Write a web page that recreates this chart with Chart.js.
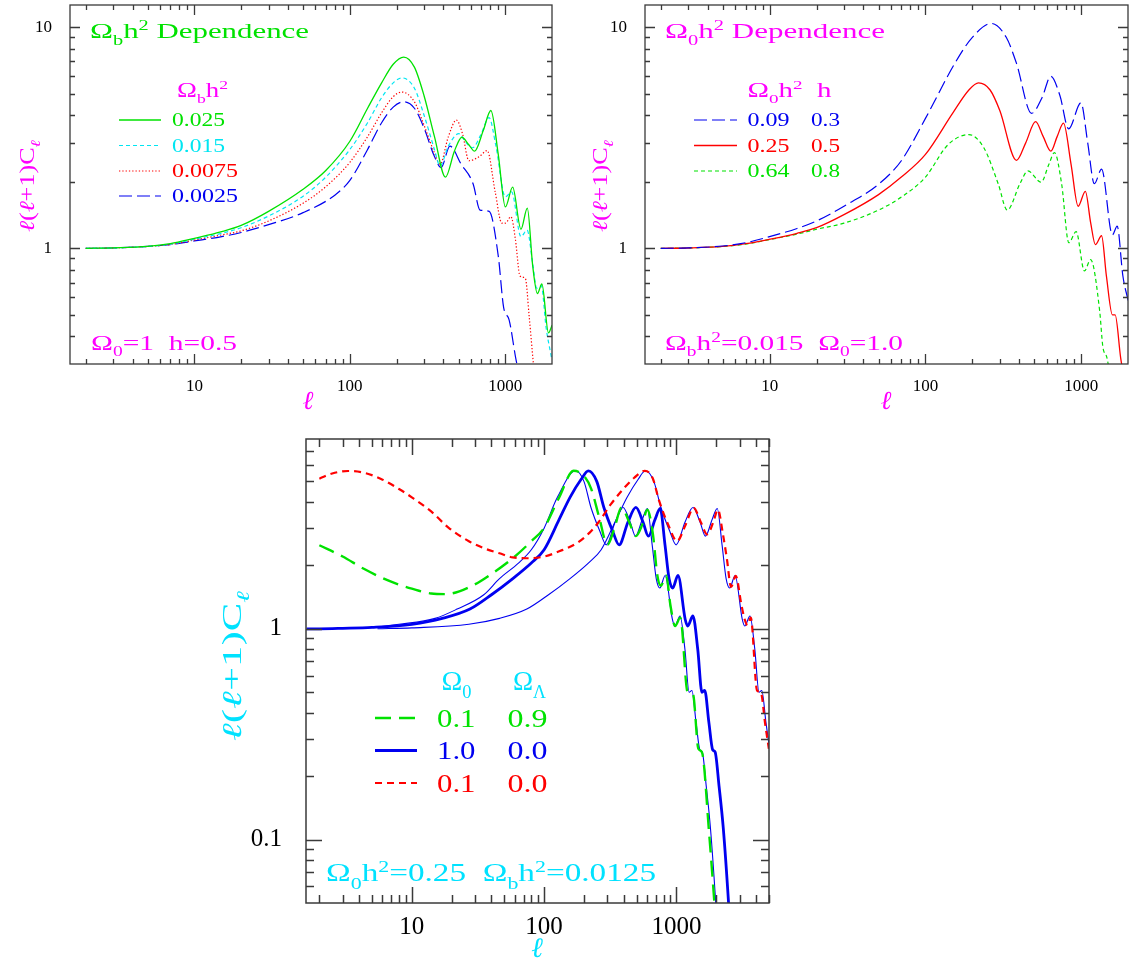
<!DOCTYPE html>
<html><head><meta charset="utf-8">
<script src="https://cdn.jsdelivr.net/npm/chart.js@4.4.1/dist/chart.umd.min.js"></script>
<style>
html,body{margin:0;padding:0;background:#fff;width:1136px;height:962px;overflow:hidden;}
canvas{position:absolute;display:block;}
</style></head><body>
<canvas id="c1" width="570" height="420" style="left:0px;top:0px"></canvas>
<canvas id="c2" width="561" height="420" style="left:575px;top:0px"></canvas>
<canvas id="c3" width="580" height="532" style="left:210px;top:430px"></canvas>
<script>
// ================= DATA =================
// Panel 1: Omega_b h^2 dependence
const p1_ell_025 = [2,3,5,7,10,15,20,30,50,70,100,130,160,190,222,260,300,350,412,470,525,580,634,720,807,900,1000,1114,1260,1384,1500,1607,1718,1893,2000];
const p1_val_025 = [1.0,1.005,1.02,1.05,1.11,1.19,1.27,1.47,1.85,2.25,3.05,4.3,5.6,6.8,7.33,6.6,4.9,3.2,2.1,2.75,3.18,2.95,2.75,3.4,4.2,2.66,1.54,1.89,1.22,1.52,0.83,0.625,0.69,0.415,0.45];
const p1_ell_015 = [2,3,5,7,10,15,20,30,50,70,100,130,160,190,216,260,300,350,380,430,502,560,616,700,785,870,1000,1097,1260,1380,1500,1590,1700,1830,1980];
const p1_val_015 = [1.0,1.004,1.02,1.045,1.10,1.17,1.24,1.40,1.72,2.1,2.8,3.7,4.8,5.6,5.9,5.3,4.0,2.8,2.36,2.9,3.3,3.0,2.85,3.3,3.9,2.9,1.71,1.8,1.13,1.21,0.85,0.66,0.68,0.436,0.32];
const p1_ell_0075 = [2,3,5,7,10,15,20,30,50,70,100,130,160,190,216,260,300,350,380,430,484,530,583,680,764,860,949,1000,1086,1160,1242,1346,1420,1515,1600];
const p1_val_0075 = [1.0,1.004,1.02,1.04,1.09,1.15,1.2,1.33,1.6,1.9,2.45,3.2,4.1,4.85,5.09,4.6,3.6,2.7,2.4,3.2,3.8,3.3,2.49,2.6,2.77,1.8,1.3,1.3,1.39,1.1,0.75,0.73,0.5,0.3,0.2];
const p1_ell_0025 = [2,3,5,7,10,15,20,30,50,80,100,130,160,190,222,260,300,350,386,440,520,620,687,787,900,975,1057,1165,1250];
const p1_val_0025 = [1.0,1.004,1.02,1.04,1.08,1.13,1.18,1.28,1.45,1.74,2.03,2.8,3.7,4.35,4.6,4.3,3.5,2.6,2.32,2.9,2.4,1.96,1.49,1.47,0.925,0.54,0.475,0.32,0.25];

// Panel 2: Omega_0 h^2 dependence
const p2_ell_009 = [2,3,5,7,10,15,20,30,50,70,100,155,200,265,330,383,480,560,638,730,830,995,1100,1213,1350,1585,1700,1850,2000];
const p2_val_009 = [1.0,1.005,1.025,1.06,1.13,1.23,1.33,1.55,1.95,2.49,3.87,6.9,9.0,10.4,9.0,6.9,4.08,4.8,6.0,4.9,3.47,4.55,3.0,1.96,2.28,1.15,1.26,0.75,0.58];
const p2_ell_025 = [2,3,5,7,10,15,20,30,50,70,100,150,190,219,260,300,384,440,509,570,638,700,769,860,955,1062,1150,1232,1350,1450,1585,1650,1790,1900];
const p2_val_025 = [1.0,1.004,1.02,1.05,1.10,1.17,1.24,1.42,1.75,2.1,2.66,4.1,5.2,5.6,5.2,4.2,2.5,3.0,3.74,3.2,2.75,3.2,3.68,2.4,1.55,1.81,1.3,1.04,1.14,0.75,0.5,0.5,0.32,0.25];
const p2_ell_064 = [2,3,5,7,10,15,20,30,50,73,100,140,190,237,293,335,404,455,552,620,673,748,832,927,1048,1148,1313,1375,1462,1550];
const p2_val_064 = [1.0,1.004,1.02,1.045,1.096,1.16,1.22,1.3,1.49,1.74,2.1,2.95,3.27,2.85,1.96,1.49,1.96,2.24,1.99,2.4,2.71,1.96,1.06,1.19,0.79,0.89,0.52,0.36,0.32,0.25];

// Panel 3: Omega_0 / Omega_Lambda
const p3_ell_lam = [2,3,4.3,6,8,10,14,18,27.5,40,58,80,100,130,167,200,227,260,301,340,385,440,494,550,603,665,718,764,837,900,978,1070,1216,1334,1466,1560,1766,1938,2050];
const p3_val_lam = [2.49,2.2,1.93,1.74,1.62,1.55,1.47,1.46,1.58,1.82,2.16,2.6,3.01,4.2,5.61,5.3,4.61,3.4,2.5,3.0,3.76,3.2,2.75,3.1,3.67,2.8,1.79,1.6,1.79,1.3,1.03,1.13,0.5,0.49,0.27,0.26,0.108,0.05,0.03];
const p3_ell_flat = [1.6,2,3,5,10,17,27.5,40,58,80,100,130,157,190,216,250,283,330,369,430,494,560,614,690,754,820,880,937,1028,1165,1217,1333,1450,1560,1637,1760,1880,1963,2100,2260,2480,2600];
const p3_val_flat = [1.0,1.0,1.005,1.015,1.05,1.12,1.24,1.45,1.73,2.05,2.37,3.3,4.2,5.1,5.61,5.0,3.76,2.9,2.5,3.2,3.76,3.2,2.75,3.3,3.72,2.5,1.73,1.56,1.79,1.11,1.03,1.15,0.8,0.5,0.51,0.36,0.267,0.26,0.18,0.114,0.05,0.03];
const p3_ell_open = [2,2.5,3.3,4.3,5.8,8,10,14,19,27,35,46,58,74,100,130,177,220,257,320,398,480,577,660,740,870,1010,1170,1350,1530,1710,1900,2060,2250,2405,2590,2810,3100,3280,3450,3650,4070,4345,4700,5000];
const p3_val_open = [5.15,5.45,5.6,5.5,5.15,4.6,4.2,3.6,3.01,2.6,2.41,2.28,2.18,2.16,2.2,2.33,2.55,2.85,3.19,3.9,4.61,5.2,5.61,5.2,4.05,3.1,2.6,3.1,3.74,3.2,2.8,3.2,3.67,2.8,2.16,1.58,1.78,1.3,1.11,1.04,1.13,0.51,0.5,0.35,0.27];
const p3_ell_thinA = [2,5,8,15,22,35,46,64,80,100,126,173,200,226,264,295,344,395,448,491,552,603,656,704,750,822,932,974,1066,1160,1248,1310,1408,1504,1570,1680,1808,1984,2080];
const p3_val_thinA = [1.0,1.015,1.05,1.12,1.24,1.45,1.73,2.05,2.37,3.0,4.2,5.61,5.0,3.76,2.9,2.5,3.2,3.76,3.2,2.75,3.3,3.72,2.5,1.73,1.56,1.79,1.11,1.03,1.15,0.8,0.5,0.51,0.36,0.267,0.26,0.18,0.114,0.05,0.03];
const p3_ell_thinB = [5.5,10,27,46,74,108,157,216,270,351,424,513,583,675,764,891,996,1161,1334,1512,1658,1863,2036,2214,2376,2530,2776,3145,3286,3600,3915,4212,4420,4752,5076];
const p3_val_thinB = [1.0,1.01,1.05,1.12,1.24,1.45,1.73,2.05,2.37,3.3,4.2,5.1,5.61,5.0,3.76,2.9,2.5,3.2,3.76,3.2,2.75,3.3,3.72,2.5,1.73,1.56,1.79,1.11,1.03,1.15,0.8,0.5,0.51,0.36,0.267];

// Tick values and labels
const p12_xTicks = [10,100,1000];
const p12_xLabels = ['10','100','1000'];
const p12_yTicks = [1,10];
const p12_yLabels = ['1','10'];
const p3_xTicks = [10,100,1000];
const p3_xLabels = ['10','100','1000'];
const p3_yTicks = [0.1,1];
const p3_yLabels = ['0.1','1'];

// ================= STYLE =================
const SERIF = "'Liberation Serif','DejaVu Serif','Times New Roman',serif";
const GREEN = '#00e200', CYAN = '#00e6f2', RED = '#ff0000', BLUE = '#0000f0', MAGENTA = '#ff00ff', CYANTXT = '#00e2ff';

function pts(L, V) { return L.map((l, i) => ({x: l, y: V[i]})); }

function drawRich(ctx, t) {
  const size = t.size;
  ctx.save();
  ctx.fillStyle = t.color;
  ctx.textBaseline = 'alphabetic';
  const parts = t.segs.map(s => {
    const kind = s[1] || 'n';
    const fs = kind === 'n' ? size : size * 0.66;
    const style = s[2] ? 'italic ' : '';
    const font = style + fs + 'px ' + SERIF;
    ctx.font = font;
    return {txt: s[0], kind: kind, fs: fs, font: font, w: ctx.measureText(s[0]).width};
  });
  const nat = parts.reduce((a, p) => a + p.w, 0);
  const sx = t.width ? t.width / nat : 1;
  ctx.translate(t.x, t.y);
  if (t.rot) ctx.rotate(t.rot);
  ctx.scale(sx, 1);
  let cx = t.align === 'center' ? -nat / 2 : (t.align === 'right' ? -nat : 0);
  const base = size * 0.33;
  for (const p of parts) {
    ctx.font = p.font;
    const dy = p.kind === 'sub' ? size * 0.3 : (p.kind === 'sup' ? -size * 0.36 : 0);
    ctx.fillText(p.txt, cx, base + dy);
    cx += p.w;
  }
  ctx.restore();
}

const framePlugin = {
  id: 'frame',
  afterDatasetsDraw(chart, args, o) {
    if (!o || !o.on) return;
    const ctx = chart.ctx, a = chart.chartArea, xs = chart.scales.x, ys = chart.scales.y;
    ctx.save();
    ctx.strokeStyle = o.color; ctx.lineWidth = o.width;
    const logTicks = (s) => {
      const out = [];
      for (let d = Math.floor(Math.log10(s.min)) - 1; d <= Math.ceil(Math.log10(s.max)); d++)
        for (let k = 1; k <= 9; k++) {
          const v = k * Math.pow(10, d);
          if (v > s.min * 1.001 && v < s.max * 0.999) out.push([v, k === 1]);
        }
      return out;
    };
    ctx.beginPath();
    for (const [v, maj] of logTicks(xs)) {
      const px = Math.round(xs.getPixelForValue(v)) + 0.5, L = maj ? o.major : o.minor;
      ctx.moveTo(px, a.bottom); ctx.lineTo(px, a.bottom - L);
      ctx.moveTo(px, a.top); ctx.lineTo(px, a.top + L);
    }
    for (const [v, maj] of logTicks(ys)) {
      const py = Math.round(ys.getPixelForValue(v)) + 0.5, L = maj ? o.major : o.minor;
      ctx.moveTo(a.left, py); ctx.lineTo(a.left + L, py);
      ctx.moveTo(a.right, py); ctx.lineTo(a.right - L, py);
    }
    ctx.stroke();
    ctx.strokeRect(a.left, a.top, a.right - a.left, a.bottom - a.top);
    ctx.restore();
  },
  afterDraw(chart, args, o) {
    if (!o || !o.on) return;
    const ctx = chart.ctx;
    ctx.save();
    ctx.translate(-o.ox, -o.oy);
    for (const s of (o.samples || [])) {
      const ds = chart.data.datasets[s.ds];
      ctx.save();
      ctx.strokeStyle = ds.borderColor; ctx.lineWidth = ds.borderWidth;
      ctx.setLineDash(ds.borderDash || []);
      ctx.beginPath(); ctx.moveTo(s.x1, s.y); ctx.lineTo(s.x2, s.y); ctx.stroke();
      ctx.restore();
    }
    for (const t of (o.texts || [])) drawRich(ctx, t);
    ctx.restore();
  }
};
Chart.register(framePlugin);

function line(label, L, V, color, width, dash, order) {
  return {label: label, data: pts(L, V), borderColor: color, borderWidth: width, borderDash: dash,
    pointRadius: 0, fill: false, cubicInterpolationMode: 'monotone', order: order};
}

function makeOptions(cfg) {
  return {
    responsive: false, animation: false, devicePixelRatio: 1,
    layout: {autoPadding: false, padding: {left: 0, top: cfg.padTop, right: cfg.padRight, bottom: 0}},
    scales: {
      x: {type: 'logarithmic', min: cfg.xmin, max: cfg.xmax,
        afterFit: s => { s.height = cfg.xh; s.paddingLeft = 0; s.paddingRight = 0; s.paddingTop = 0; s.paddingBottom = 0; },
        afterBuildTicks: s => { s.ticks = cfg.xTicks.map(v => ({value: v})); },
        grid: {display: false}, border: {display: false},
        ticks: {autoSkip: false, maxRotation: 0, minRotation: 0, padding: cfg.xpad, color: '#000',
          font: {family: SERIF, size: cfg.tickSize, lineHeight: 1},
          callback: (v, i) => cfg.xLabels[i]}},
      y: {type: 'logarithmic', min: cfg.ymin, max: cfg.ymax,
        afterFit: s => { s.width = cfg.yw; s.paddingLeft = 0; s.paddingRight = 0; s.paddingTop = 0; s.paddingBottom = 0; },
        afterBuildTicks: s => { s.ticks = cfg.yTicks.map(v => ({value: v})); },
        grid: {display: false}, border: {display: false},
        ticks: {autoSkip: false, padding: cfg.ypad, color: '#000',
          font: {family: SERIF, size: cfg.tickSize, lineHeight: 1},
          callback: (v, i) => cfg.yLabels[i]}}
    },
    plugins: {legend: {display: false}, tooltip: {enabled: false},
      frame: {on: true, color: '#3a3a3a', width: cfg.frameW, major: cfg.major, minor: cfg.minor,
        ox: cfg.ox, oy: cfg.oy, samples: cfg.samples, texts: cfg.texts}}
  };
}

const ELL = 'ℓ';
const R90 = -Math.PI / 2;

// ---------- Panel 1 ----------
new Chart(document.getElementById('c1'), {
  type: 'line',
  data: {datasets: [
    line('0.025', p1_ell_025, p1_val_025, GREEN, 1.3, [], 1),
    line('0.015', p1_ell_015, p1_val_015, CYAN, 1.2, [4, 3], 2),
    line('0.0075', p1_ell_0075, p1_val_0075, RED, 1.2, [1.3, 2], 3),
    line('0.0025', p1_ell_0025, p1_val_0025, BLUE, 1.2, [13, 5], 4)
  ]},
  options: makeOptions({
    padTop: 5, padRight: 18, xh: 56, yw: 70, xmin: 1.585, xmax: 1995, ymin: 0.316, ymax: 12.6,
    xTicks: p12_xTicks, xLabels: p12_xLabels, yTicks: p12_yTicks, yLabels: p12_yLabels,
    tickSize: 17, xpad: 6, ypad: 10, frameW: 1.3, major: 10, minor: 5, ox: 0, oy: 0,
    samples: [
      {ds: 0, x1: 119, x2: 161, y: 120}, {ds: 1, x1: 119, x2: 161, y: 145.5},
      {ds: 2, x1: 119, x2: 161, y: 171}, {ds: 3, x1: 119, x2: 161, y: 196}],
    texts: [
      {segs: [['Ω'], ['b', 'sub'], ['h'], ['2', 'sup'], [' Dependence']], x: 90, y: 31, size: 22, color: GREEN, width: 219},
      {segs: [['Ω'], ['b', 'sub'], ['h'], ['2', 'sup']], x: 177, y: 90, size: 20, color: MAGENTA, width: 51},
      {segs: [['0.025']], x: 172, y: 120, size: 19, color: GREEN, width: 53},
      {segs: [['0.015']], x: 172, y: 145.5, size: 19, color: CYAN, width: 53},
      {segs: [['0.0075']], x: 172, y: 171, size: 19, color: RED, width: 66},
      {segs: [['0.0025']], x: 172, y: 196, size: 19, color: BLUE, width: 66},
      {segs: [['Ω'], ['0', 'sub'], ['=1  h=0.5']], x: 91, y: 343, size: 21, color: MAGENTA, width: 146},
      {segs: [[ELL, 'n', 1], ['('], [ELL, 'n', 1], ['+1)C'], [ELL, 'sub', 1]], x: 27, y: 186, size: 21, color: MAGENTA, width: 92, align: 'center', rot: R90},
      {segs: [[ELL, 'n', 1]], x: 308, y: 400, size: 26, color: MAGENTA, align: 'center'}
    ]
  })
});

// ---------- Panel 2 ----------
new Chart(document.getElementById('c2'), {
  type: 'line',
  data: {datasets: [
    line('0.09 0.3', p2_ell_009, p2_val_009, BLUE, 1.2, [13, 5], 1),
    line('0.25 0.5', p2_ell_025, p2_val_025, RED, 1.3, [], 2),
    line('0.64 0.8', p2_ell_064, p2_val_064, GREEN, 1.2, [4, 3], 3)
  ]},
  options: makeOptions({
    padTop: 5, padRight: 8, xh: 56, yw: 70, xmin: 1.585, xmax: 1995, ymin: 0.316, ymax: 12.6,
    xTicks: p12_xTicks, xLabels: p12_xLabels, yTicks: p12_yTicks, yLabels: p12_yLabels,
    tickSize: 17, xpad: 6, ypad: 10, frameW: 1.3, major: 10, minor: 5, ox: 575, oy: 0,
    samples: [
      {ds: 0, x1: 694, x2: 737, y: 120}, {ds: 1, x1: 694, x2: 737, y: 145.5}, {ds: 2, x1: 694, x2: 737, y: 171}],
    texts: [
      {segs: [['Ω'], ['0', 'sub'], ['h'], ['2', 'sup'], [' Dependence']], x: 665, y: 31, size: 22, color: MAGENTA, width: 220},
      {segs: [['Ω'], ['0', 'sub'], ['h'], ['2', 'sup'], ['  h']], x: 747.5, y: 90, size: 20, color: MAGENTA, width: 84},
      {segs: [['0.09']], x: 747.5, y: 120, size: 19, color: BLUE, width: 42},
      {segs: [['0.3']], x: 811, y: 120, size: 19, color: BLUE, width: 29},
      {segs: [['0.25']], x: 747.5, y: 145.5, size: 19, color: RED, width: 42},
      {segs: [['0.5']], x: 811, y: 145.5, size: 19, color: RED, width: 29},
      {segs: [['0.64']], x: 747.5, y: 171, size: 19, color: GREEN, width: 42},
      {segs: [['0.8']], x: 811, y: 171, size: 19, color: GREEN, width: 29},
      {segs: [['Ω'], ['b', 'sub'], ['h'], ['2', 'sup'], ['=0.015  '], ['Ω'], ['0', 'sub'], ['=1.0']], x: 665, y: 343, size: 21, color: MAGENTA, width: 238},
      {segs: [[ELL, 'n', 1], ['('], [ELL, 'n', 1], ['+1)C'], [ELL, 'sub', 1]], x: 600, y: 186, size: 21, color: MAGENTA, width: 92, align: 'center', rot: R90},
      {segs: [[ELL, 'n', 1]], x: 886, y: 400, size: 26, color: MAGENTA, align: 'center'}
    ]
  })
});

// ---------- Panel 3 ----------
new Chart(document.getElementById('c3'), {
  type: 'line',
  data: {datasets: [
    line('0.1 0.0', p3_ell_open, p3_val_open, RED, 2.2, [7, 5], 1),
    line('0.1 0.9', p3_ell_lam, p3_val_lam, GREEN, 2.4, [16, 8], 2),
    line('1.0 0.0', p3_ell_flat, p3_val_flat, BLUE, 2.8, [], 3),
    line('1.0 0.0 shifted', p3_ell_thinA, p3_val_thinA, BLUE, 1.1, [], 4),
    line('1.0 0.0 shifted 2', p3_ell_thinB, p3_val_thinB, BLUE, 1.1, [], 5)
  ]},
  options: makeOptions({
    padTop: 9, padRight: 21, xh: 59, yw: 96, xmin: 1.585, xmax: 5012, ymin: 0.0501, ymax: 7.94,
    xTicks: p3_xTicks, xLabels: p3_xLabels, yTicks: p3_yTicks, yLabels: p3_yLabels,
    tickSize: 25, xpad: 4, ypad: 16, frameW: 1.5, major: 16, minor: 8, ox: 210, oy: 430,
    samples: [
      {ds: 1, x1: 375, x2: 417, y: 718}, {ds: 2, x1: 375, x2: 417, y: 750.5}, {ds: 0, x1: 375, x2: 417, y: 783}],
    texts: [
      {segs: [['Ω'], ['0', 'sub']], x: 441.5, y: 681, size: 27, color: CYANTXT, width: 30},
      {segs: [['Ω'], ['Λ', 'sub']], x: 513, y: 681, size: 27, color: CYANTXT, width: 33},
      {segs: [['0.1']], x: 437, y: 718, size: 26, color: GREEN, width: 38.5},
      {segs: [['0.9']], x: 507.5, y: 718, size: 26, color: GREEN, width: 40},
      {segs: [['1.0']], x: 437, y: 750.5, size: 26, color: BLUE, width: 38.5},
      {segs: [['0.0']], x: 507.5, y: 750.5, size: 26, color: BLUE, width: 40},
      {segs: [['0.1']], x: 437, y: 783, size: 26, color: RED, width: 38.5},
      {segs: [['0.0']], x: 507.5, y: 783, size: 26, color: RED, width: 40},
      {segs: [['Ω'], ['0', 'sub'], ['h'], ['2', 'sup'], ['=0.25  '], ['Ω'], ['b', 'sub'], ['h'], ['2', 'sup'], ['=0.0125']], x: 326, y: 873, size: 25, color: CYANTXT, width: 330},
      {segs: [[ELL, 'n', 1], ['('], [ELL, 'n', 1], ['+1)C'], [ELL, 'sub', 1]], x: 232, y: 666, size: 27, color: CYANTXT, width: 150, align: 'center', rot: R90},
      {segs: [[ELL, 'n', 1]], x: 537, y: 948, size: 28, color: CYANTXT, align: 'center'}
    ]
  })
});
</script>
</body></html>
